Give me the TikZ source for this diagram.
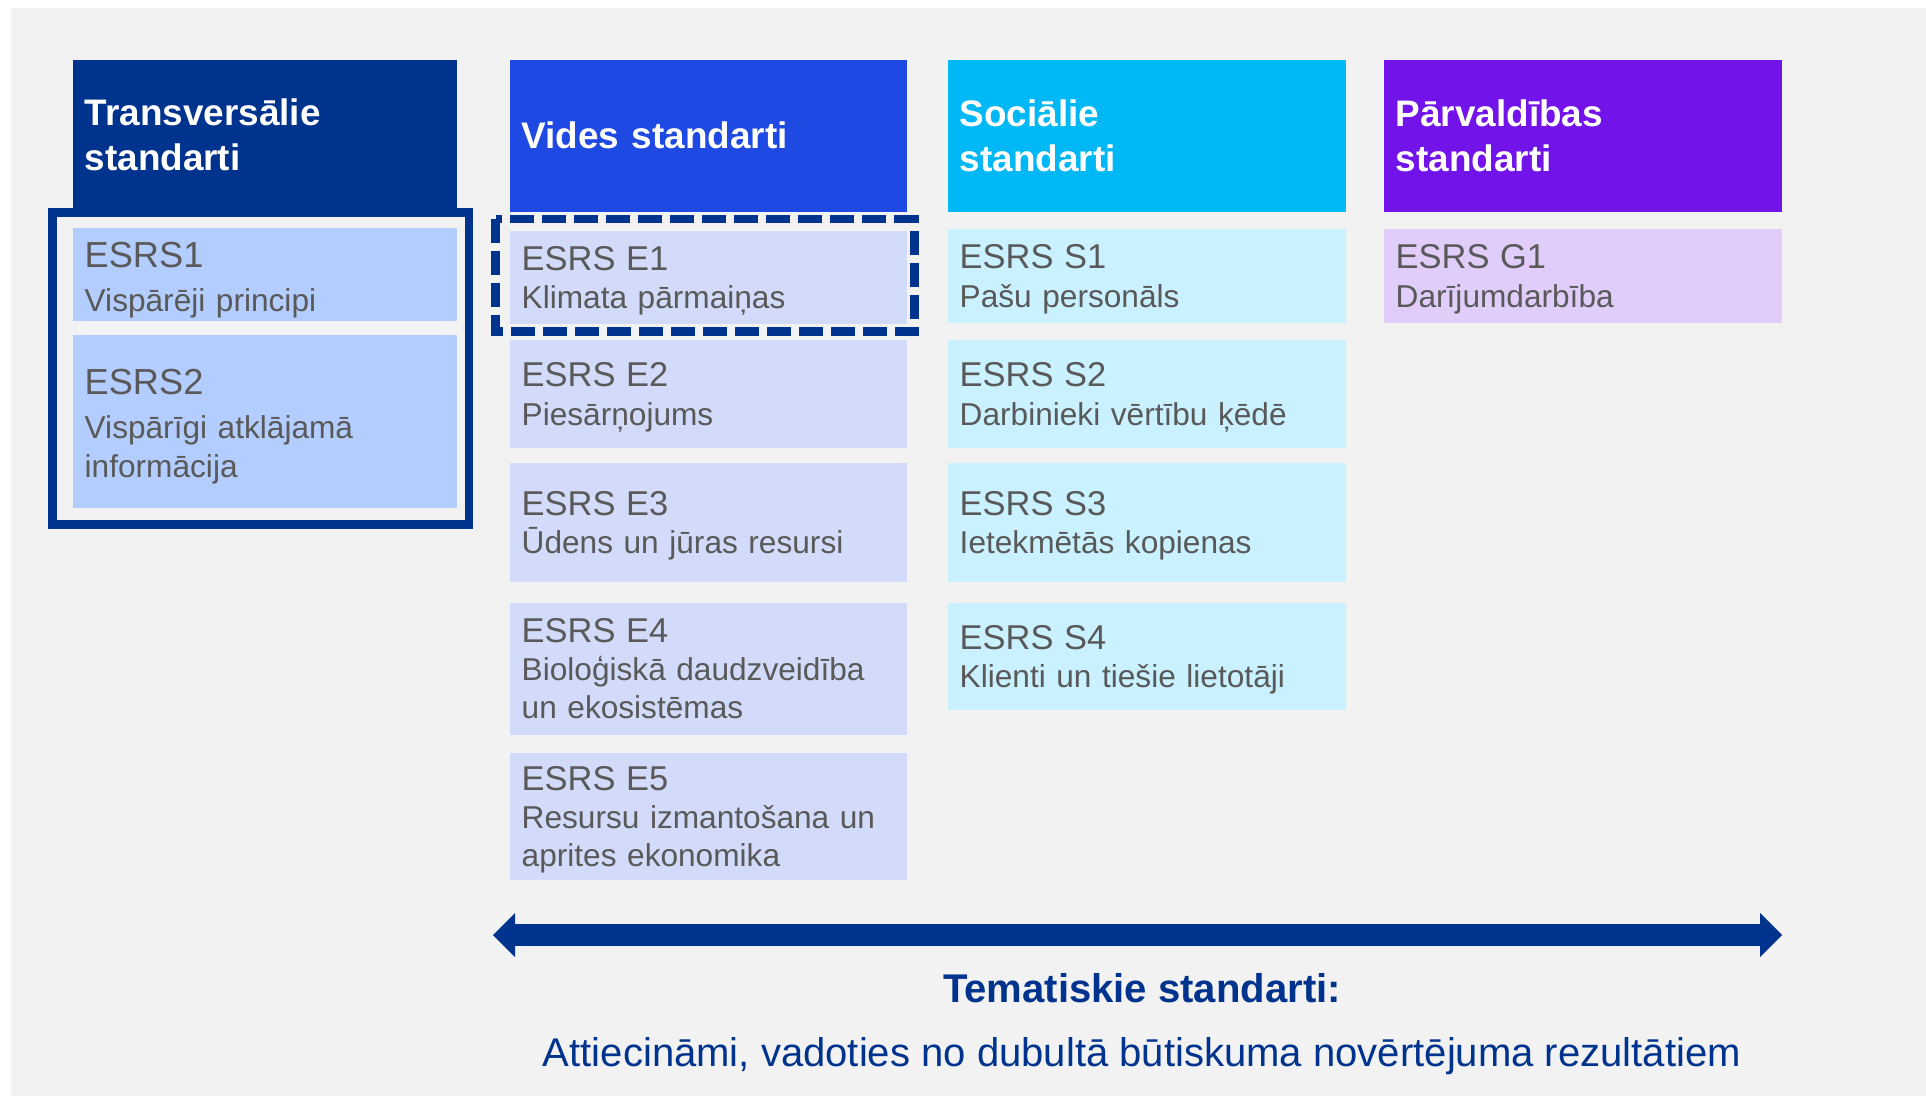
\documentclass[tikz,border=0pt]{standalone}
\usepackage{fontspec}
\setmainfont{Liberation Sans}
\usetikzlibrary{arrows.meta}
\definecolor{bggray}{HTML}{F2F2F2}
\definecolor{navy}{HTML}{00338D}
\definecolor{cobalt}{HTML}{1E49E2}
\definecolor{pacific}{HTML}{00B8F5}
\definecolor{purple}{HTML}{7213EA}
\definecolor{translight}{HTML}{B3CDFF}
\definecolor{videslight}{HTML}{D2DBF9}
\definecolor{soclight}{HTML}{C9F1FF}
\definecolor{parvlight}{HTML}{E1CDFA}
\definecolor{txtgray}{HTML}{595959}
\newcommand\hdrfont{\fontsize{10.5}{12.7}\selectfont\bfseries}
\newcommand\bigcodefont{\fontsize{10.3}{11.2}\selectfont}
\newcommand\bigdescfont{\fontsize{9.0}{11.2}\selectfont}
\newcommand\codefont{\fontsize{9.8}{10.9}\selectfont}
\newcommand\descfont{\fontsize{9.0}{10.9}\selectfont}
\newcommand\titlefont{\fontsize{11.4}{13}\selectfont\bfseries}
\newcommand\bottomfont{\fontsize{11.4}{13}\selectfont}
% code line of a box, with a strut so the text block sits centred
\newcommand\esrscode[1]{{\codefont\rule{0pt}{8.9pt}#1}}
\newcommand\esrsbigcode[1]{{\bigcodefont\rule{0pt}{10.3pt}#1}}
\tikzset{bigtip/.tip={Triangle[length=0.22cm,width=0.44cm,line width=0pt]}}

\begin{document}
\begin{tikzpicture}[
    hdr/.style={fill=#1,text=white,font=\hdrfont,align=left,anchor=north west,
      inner xsep=0.12cm,inner ysep=0pt,minimum height=1.52cm},
    esrs/.style={fill=#1,text=txtgray,font=\descfont,align=left,anchor=north west,
      inner xsep=0.12cm,inner ysep=0pt}
  ]
  \useasboundingbox (0,0) rectangle (19.26,-10.96);
  \fill[bggray] (0.11,-0.08) rectangle (19.26,-10.96);

  % transversal standards
  \draw[navy,line width=0.085cm]
    (0.5225,-2.1225) rectangle (4.6875,-5.243);
  \node[hdr=navy,text width=3.60cm,minimum height=1.50cm]
    (trans) at (0.72,-0.59) {Transversālie\\standarti};
  \node[esrs=translight,font=\bigdescfont,text width=3.60cm,minimum height=0.93cm]
    (esrs1) at (0.72,-2.27) {\esrsbigcode{ESRS1}\\[1.3pt]Vispārēji principi};
  \node[esrs=translight,font=\bigdescfont,text width=3.60cm,minimum height=1.73cm]
    (esrs2) at (0.72,-3.34) {\esrsbigcode{ESRS2}\\[1.3pt]Vispārīgi atklājamā\\informācija};

  % environment
  \node[hdr=cobalt,text width=3.73cm]
    (vides) at (5.09,-0.59) {Vides standarti};
  \node[esrs=videslight,text width=3.73cm,minimum height=0.93cm]
    (e1) at (5.09,-2.30) {\esrscode{ESRS E1}\\Klimata pārmaiņas};
  \node[esrs=videslight,text width=3.73cm,minimum height=1.08cm]
    (e2) at (5.09,-3.39) {\esrscode{ESRS E2}\\Piesārņojums};
  \node[esrs=videslight,text width=3.73cm,minimum height=1.19cm]
    (e3) at (5.09,-4.62) {\esrscode{ESRS E3}\\Ūdens un jūras resursi};
  \node[esrs=videslight,text width=3.73cm,minimum height=1.32cm]
    (e4) at (5.09,-6.02) {{\codefont ESRS E4}\\Bioloģiskā daudzveidība\\un ekosistēmas};
  \node[esrs=videslight,text width=3.73cm,minimum height=1.27cm]
    (e5) at (5.09,-7.52) {\esrscode{ESRS E5}\\Resursu izmantošana un\\aprites ekonomika};
  \draw[navy,line width=0.085cm,dash pattern=on 0.24cm off 0.08cm]
    ([xshift=-0.135cm,yshift=0.11cm]e1.north west) rectangle
    ([xshift=0.07cm,yshift=-0.07cm]e1.south east);

  % social
  \node[hdr=pacific,text width=3.74cm]
    (soc) at (9.47,-0.59) {Sociālie\\standarti};
  \node[esrs=soclight,text width=3.74cm,minimum height=0.94cm]
    (s1) at (9.47,-2.28) {\esrscode{ESRS S1}\\Pašu personāls};
  \node[esrs=soclight,text width=3.74cm,minimum height=1.08cm]
    (s2) at (9.47,-3.39) {\esrscode{ESRS S2}\\Darbinieki vērtību ķēdē};
  \node[esrs=soclight,text width=3.74cm,minimum height=1.19cm]
    (s3) at (9.47,-4.62) {\esrscode{ESRS S3}\\Ietekmētās kopienas};
  \node[esrs=soclight,text width=3.74cm,minimum height=1.07cm]
    (s4) at (9.47,-6.02) {\esrscode{ESRS S4}\\Klienti un tiešie lietotāji};

  % governance
  \node[hdr=purple,text width=3.74cm]
    (parv) at (13.83,-0.59) {Pārvaldības\\standarti};
  \node[esrs=parvlight,text width=3.74cm,minimum height=0.94cm]
    (g1) at (13.83,-2.28) {\esrscode{ESRS G1}\\Darījumdarbība};

  % thematic arrow
  \coordinate (arrL) at (4.93,-9.35);
  \coordinate (arrR) at (17.82,-9.35);
  \draw[navy,line width=0.22cm,bigtip-bigtip] (arrL) -- (arrR);

  \node[font=\titlefont,text=navy,anchor=base]
    (title) at (11.42,-10.02) {Tematiskie standarti:};
  \node[font=\bottomfont,text=navy,anchor=base]
    (subtitle) at (11.42,-10.66)
    {Attiecināmi, vadoties no dubultā būtiskuma novērtējuma rezultātiem};
\end{tikzpicture}
\end{document}
